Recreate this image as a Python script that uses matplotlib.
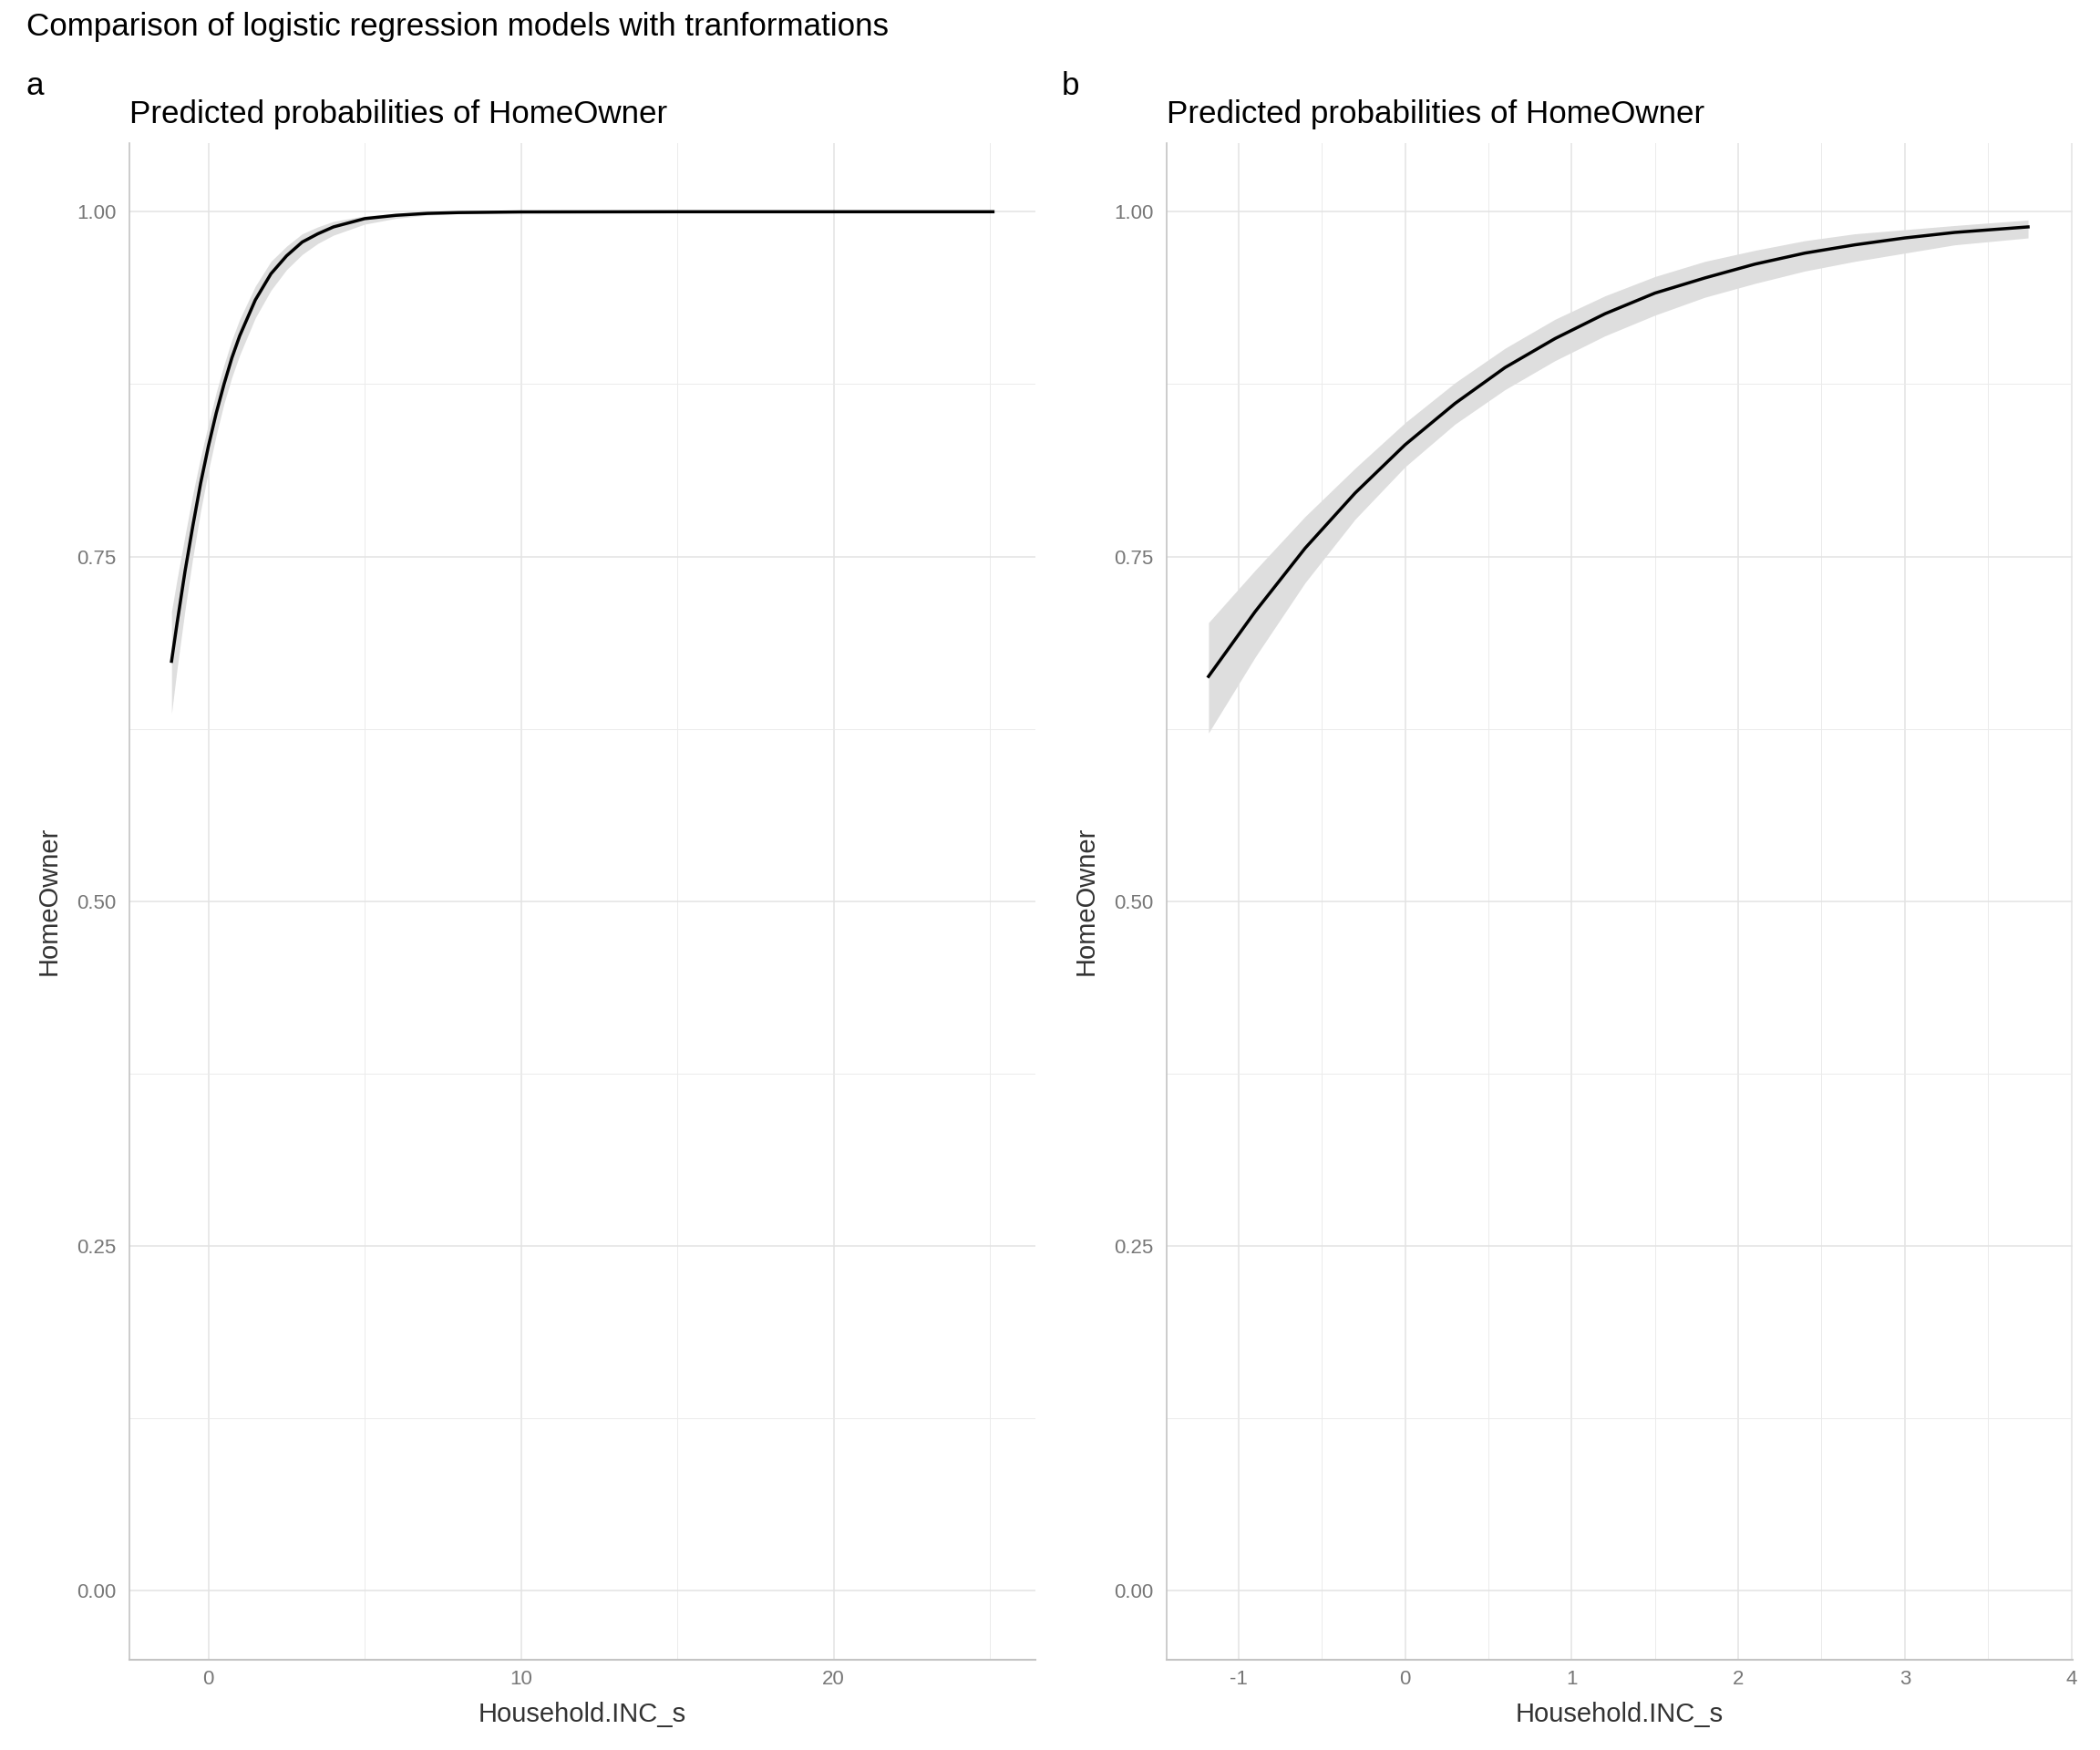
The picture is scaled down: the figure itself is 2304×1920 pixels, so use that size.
import matplotlib
matplotlib.use("Agg")
import matplotlib.pyplot as plt
from matplotlib.ticker import MultipleLocator

plt.rcParams["font.family"] = ["Liberation Sans", "DejaVu Sans"]
plt.rcParams["axes.unicode_minus"] = False

# panel a: raw income (scaled)
inc_a = [-1.18, -1.0, -0.75, -0.5, -0.25, 0.0, 0.25, 0.5, 0.75, 1.0, 1.5, 2.0,
         2.5, 3.0, 3.5, 4.0, 5.0, 6.0, 7.0, 8.0, 10.0, 15.0, 20.0, 25.1]
prob_a = [0.674, 0.702, 0.739, 0.772, 0.803, 0.830, 0.854, 0.875, 0.894, 0.910,
          0.936, 0.955, 0.968, 0.978, 0.984, 0.989, 0.995, 0.9974, 0.9988,
          0.9994, 0.99986, 1.0, 1.0, 1.0]
low_a = [0.636, 0.669, 0.711, 0.749, 0.783, 0.812, 0.838, 0.861, 0.880, 0.896,
         0.923, 0.943, 0.958, 0.969, 0.977, 0.983, 0.991, 0.9952, 0.9975,
         0.9986, 0.9996, 0.99998, 1.0, 1.0]
high_a = [0.710, 0.734, 0.765, 0.795, 0.822, 0.846, 0.869, 0.889, 0.907, 0.922,
          0.946, 0.964, 0.975, 0.984, 0.989, 0.993, 0.997, 0.9986, 0.9994,
          0.9997, 0.99995, 1.0, 1.0, 1.0]

# panel b: transformed income
inc_b = [-1.18, -0.9, -0.6, -0.3, 0.0, 0.3, 0.6, 0.9, 1.2, 1.5, 1.8, 2.1,
         2.4, 2.7, 3.0, 3.3, 3.74]
prob_b = [0.663, 0.710, 0.756, 0.796, 0.831, 0.861, 0.887, 0.908, 0.926, 0.941,
          0.952, 0.962, 0.970, 0.976, 0.981, 0.985, 0.989]
low_b = [0.622, 0.677, 0.731, 0.777, 0.815, 0.846, 0.871, 0.892, 0.910, 0.925,
         0.938, 0.948, 0.957, 0.964, 0.970, 0.976, 0.981]
high_b = [0.702, 0.740, 0.779, 0.814, 0.847, 0.876, 0.901, 0.922, 0.939, 0.953,
          0.964, 0.972, 0.979, 0.984, 0.987, 0.990, 0.994]

y_ticks = [0.0, 0.25, 0.5, 0.75, 1.0]

fig = plt.figure(figsize=(11.52, 9.6), dpi=200)


def draw_panel(ax, x, p, lo, hi, xlim, major, minor):
    ax.fill_between(x, lo, hi, color="#dedede", linewidth=0, zorder=2)
    ax.plot(x, p, color="black", linewidth=1.25, zorder=3)
    ax.set_xlim(*xlim)
    ax.set_ylim(-0.05, 1.05)
    ax.xaxis.set_major_locator(MultipleLocator(major))
    ax.xaxis.set_minor_locator(MultipleLocator(minor))
    ax.set_yticks(y_ticks)
    ax.set_yticklabels(["%.2f" % v for v in y_ticks])
    ax.yaxis.set_minor_locator(MultipleLocator(0.125))
    ax.grid(which="major", color="#e3e3e3", linewidth=0.55, zorder=0)
    ax.grid(which="minor", color="#ebebeb", linewidth=0.35, zorder=0)
    ax.set_axisbelow(True)
    for s in ["top", "right"]:
        ax.spines[s].set_visible(False)
    ax.spines["left"].set_color("#c4c4c4")
    ax.spines["left"].set_linewidth(0.6)
    ax.spines["bottom"].set_color("#c4c4c4")
    ax.spines["bottom"].set_linewidth(0.75)
    ax.tick_params(which="both", length=0, labelsize=8, labelcolor="#777777")
    ax.tick_params(axis="y", pad=5)
    ax.tick_params(axis="x", pad=4)
    ax.set_xlabel("Household.INC_s", fontsize=10.5, color="#333333", labelpad=5)
    ax.set_ylabel("HomeOwner", fontsize=10.5, color="#333333", labelpad=6)
    ax.set_title("Predicted probabilities of HomeOwner", loc="left",
                 fontsize=12.6, pad=7.8)


ax_a = fig.add_axes([141.7 / 2304, 0.0517, 994 / 2304, 0.8667])
draw_panel(ax_a, inc_a, prob_a, low_a, high_a, (-2.536, 26.45), 10, 5)

ax_b = fig.add_axes([1279.5 / 2304, 0.0517, 994 / 2304, 0.8667])
draw_panel(ax_b, inc_b, prob_b, low_b, high_b, (-1.434, 4.005), 1, 0.5)

fig.text(29 / 2304, 1 - 29 / 1920,
         "Comparison of logistic regression models with tranformations",
         fontsize=12.6, ha="left", va="center")
fig.text(29 / 2304, 1 - 95 / 1920, "a", fontsize=12.6, ha="left", va="center")
fig.text(1165 / 2304, 1 - 95 / 1920, "b", fontsize=12.6, ha="left", va="center")

fig.savefig("out.png", dpi=200, facecolor="white")
